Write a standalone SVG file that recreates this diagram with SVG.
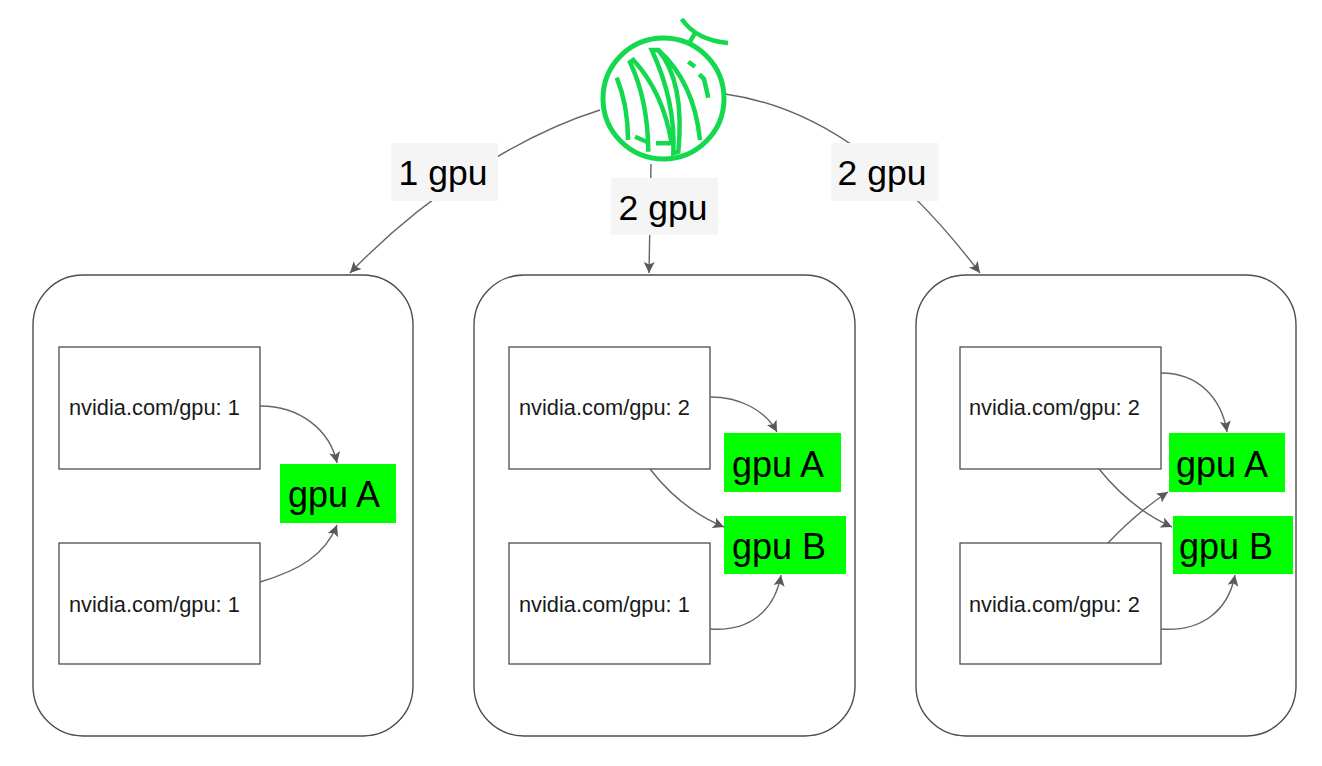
<svg xmlns="http://www.w3.org/2000/svg" width="1322" height="766" viewBox="0 0 1322 766">
<style>
text{font-family:"Liberation Sans",Arial,sans-serif;fill:#000}
.host{fill:#fff;stroke:#4d4d4d;stroke-width:1.4}
.pod{fill:#fff;stroke:#4d4d4d;stroke-width:1.3}
.pod-t{font-size:21.8px;fill:#1a1a1a;text-anchor:start}
.gpu{fill:#00ff00;stroke:none}
.gpu-t{font-size:36px}
.lab{fill:#f5f5f5;stroke:none}
.lab-t{font-size:35.5px;text-anchor:middle}
.c{fill:none;stroke:#666;stroke-width:1.4;marker-end:url(#arrow)}
.l{fill:none;stroke:#12d94e;stroke-width:4.5;stroke-linecap:butt;stroke-linejoin:miter}
</style>
<defs>
<marker id="arrow" markerUnits="userSpaceOnUse" markerWidth="13" markerHeight="13" refX="11" refY="6" orient="auto">
<path d="M0,0.5L11,6L0,11.5L2.5,6Z" fill="#595959"/>
</marker>
</defs>
<rect width="1322" height="766" fill="#fff"/>
<g id="host-1"><rect class="host" x="33" y="275" width="380" height="461" rx="50"/></g>
<g id="host-2"><rect class="host" x="474" y="275" width="381" height="461" rx="50"/></g>
<g id="host-3"><rect class="host" x="916" y="275" width="380" height="461" rx="50"/></g>
<g id="pod-1a"><rect class="pod" x="59" y="347" width="201" height="122"/><text class="pod-t" x="69" y="415">nvidia.com/gpu: 1</text></g>
<g id="pod-1b"><rect class="pod" x="59" y="543" width="201" height="121"/><text class="pod-t" x="69" y="612">nvidia.com/gpu: 1</text></g>
<g id="pod-2a"><rect class="pod" x="509" y="347" width="201" height="122"/><text class="pod-t" x="519" y="415">nvidia.com/gpu: 2</text></g>
<g id="pod-2b"><rect class="pod" x="509" y="543" width="201" height="121"/><text class="pod-t" x="519" y="612">nvidia.com/gpu: 1</text></g>
<g id="pod-3a"><rect class="pod" x="960" y="347" width="201" height="122"/><text class="pod-t" x="969" y="415">nvidia.com/gpu: 2</text></g>
<g id="pod-3b"><rect class="pod" x="960" y="543" width="201" height="121"/><text class="pod-t" x="969" y="612">nvidia.com/gpu: 2</text></g>
<g id="gpu-1a"><rect class="gpu" x="280" y="464" width="116" height="59"/><text class="gpu-t" x="288" y="507">gpu A</text></g>
<g id="gpu-2a"><rect class="gpu" x="724" y="433" width="117" height="59"/><text class="gpu-t" x="732" y="477">gpu A</text></g>
<g id="gpu-2b"><rect class="gpu" x="724" y="516" width="122" height="58"/><text class="gpu-t" x="732" y="559">gpu B</text></g>
<g id="gpu-3a"><rect class="gpu" x="1169" y="433" width="116" height="59"/><text class="gpu-t" x="1176" y="477">gpu A</text></g>
<g id="gpu-3b"><rect class="gpu" x="1173" y="516" width="120" height="58"/><text class="gpu-t" x="1179" y="559">gpu B</text></g>
<g id="connectors">
<path class="c" d="M600,110C520,135 425,195 350,273"/>
<path class="c" d="M651,164L649,273"/>
<path class="c" d="M725,94C825,108 905,175 980,273"/>
<path class="c" d="M260,406C300,406 330,430 337,463"/>
<path class="c" d="M260,582C300,570 325,555 337,525"/>
<path class="c" d="M710,397C740,397 765,410 777,432"/>
<path class="c" d="M650,469C670,495 695,515 724,527"/>
<path class="c" d="M710,629C750,632 775,610 781,575"/>
<path class="c" d="M1161,373C1200,373 1222,400 1227,432"/>
<path class="c" d="M1099,469C1120,495 1145,515 1172,527"/>
<path class="c" d="M1108,543C1125,525 1145,507 1168,492"/>
<path class="c" d="M1161,629C1200,632 1228,612 1235,575"/>
</g>
<g id="label-1"><rect class="lab" x="391" y="143" width="107" height="58"/><text class="lab-t" x="443" y="185">1 gpu</text></g>
<g id="label-2"><rect class="lab" x="611" y="178" width="107" height="57"/><text class="lab-t" x="663" y="220">2 gpu</text></g>
<g id="label-3"><rect class="lab" x="831" y="143" width="108" height="58"/><text class="lab-t" x="882" y="185">2 gpu</text></g>
<g id="logo">
<circle cx="663.5" cy="98.5" r="60.5" fill="#fff" stroke="#12d94e" stroke-width="5"/>
<path class="l" d="M681.7,19C690,31 705,41 728,43"/>
<path class="l" d="M690,41.7L695,33"/>
<path class="l" d="M616.7,77.7Q628,105 628,140"/>
<path class="l" d="M648.3,151.7Q648,100 630,62.3L633.3,60Q663,92 671.7,143.3L656,143.3"/>
<path class="l" d="M635,136.7L646.7,141.7"/>
<path class="l" d="M673.3,153.3Q676,102 651.7,50L658.3,50Q685,82 678.3,151.7Z"/>
<path class="l" d="M658.3,50Q694,82 700,140"/>
<path class="l" d="M688.3,61.7L695,66.7"/>
<path class="l" d="M699.3,74.3L704,79L708.3,97.7"/>
</g>
</svg>
